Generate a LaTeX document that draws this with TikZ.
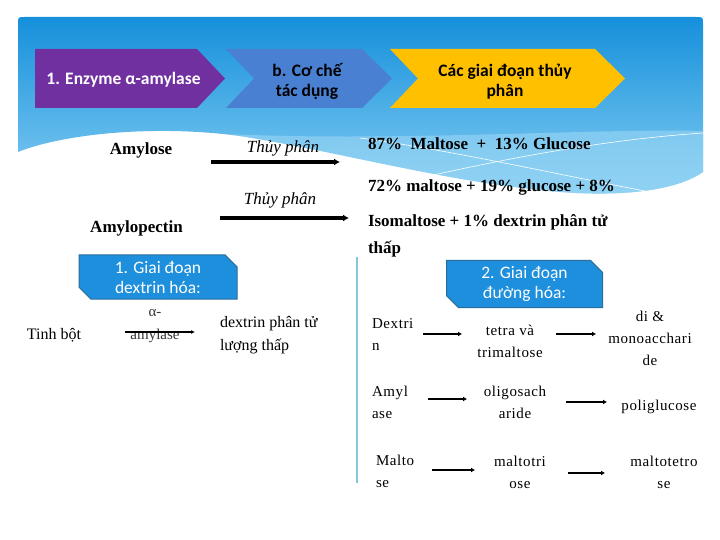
\documentclass[tikz,border=0pt]{standalone}
\usepackage{fontspec}
\setmainfont{Liberation Serif}
\newfontfamily\calibri{Carlito}
\usetikzlibrary{arrows.meta,shapes.misc}
\definecolor{bannertop}{HTML}{1590DB}
\definecolor{bannerbot}{HTML}{86CEF3}
\definecolor{bannerlight}{HTML}{9AD6F5}
\definecolor{purp}{HTML}{7030A0}
\definecolor{chevblue}{HTML}{4A80D2}
\definecolor{chevyel}{HTML}{FFC000}
\definecolor{snipfill}{HTML}{1E8FDC}
\definecolor{snipdraw}{HTML}{2A6E9E}
\definecolor{vline}{HTML}{86C6D8}

\begin{document}
\begin{tikzpicture}[x=1pt, y=-1pt, every node/.style={inner sep=0pt, outer sep=0pt},
    head/.style={font=\calibri\bfseries\fontsize{17.5}{20}\selectfont, align=center, anchor=base},
    bold/.style={font=\bfseries\fontsize{17}{28}\selectfont, anchor=base west, align=left},
    body/.style={font=\fontsize{16}{23}\selectfont, anchor=base},
    cell/.style={font=\fontsize{15}{22}\selectfont\addfontfeature{LetterSpace=4}, align=center, anchor=base},
    snip/.style={chamfered rectangle, chamfered rectangle corners={north east, south west},
          chamfered rectangle sep=6pt, fill=snipfill, draw=snipdraw, line width=1pt,
          minimum width=158pt, minimum height=41pt, align=center, text=white,
          font=\calibri\fontsize{17.5}{20}\selectfont},
    arr/.style={line width=3.2pt, -{Latex[length=6pt, width=7pt]}},
    arrs/.style={line width=2.2pt, -{Latex[length=4pt, width=5pt]}}]
    \useasboundingbox (0,0) rectangle (720,540);
    \fill[white] (0,0) rectangle (720,540);

    % Banner with wave at the bottom
    \shade[top color=bannertop, bottom color=bannerbot]
        (18,152) -- (18,24) .. controls (18,17) .. (25,17) -- (696,17) .. controls (703,17) .. (703,24)
        -- (703,172) .. controls (670,195) and (600,197) .. (540,190)
        .. controls (440,180) and (330,150) .. (240,136)
        .. controls (150,124) and (60,135) .. (18,152) -- cycle;
    \fill[bannerlight, opacity=0.6] (225,134) .. controls (400,142) and (600,128) .. (703,131)
        -- (703,172) .. controls (670,195) and (600,197) .. (540,190)
        .. controls (440,180) and (330,150) .. (240,136) -- cycle;
    \draw[white, line width=0.6pt] (360,138) .. controls (450,150) and (560,175) .. (650,192);
    \draw[white, line width=0.6pt] (420,178) .. controls (500,160) and (600,140) .. (703,133);

    % Chevrons
    \fill[purp] (35,49) -- (197,49) -- (225,78.5) -- (197,108) -- (35,108) -- cycle;
    \fill[chevblue] (226,49) -- (362,49) -- (392,78.5) -- (362,108) -- (226,108) -- (254,78.5) -- cycle;
    \fill[chevyel] (390,49) -- (595,49) -- (625,78.5) -- (595,108) -- (390,108) -- (418,78.5) -- cycle;
    \node[head, text=white] (enzyme) at (123.5,85) {1. Enzyme α-amylase};
    \node[head] (coche) at (307,97) {b. Cơ chế\\tác dụng};
    \node[head] (giaidoan) at (505,97) {Các giai đoạn thủy\\phân};

    % Hydrolysis of amylose and amylopectin
    \node[font=\bfseries\fontsize{17}{20}\selectfont, anchor=base] (amylose) at (141,155) {Amylose};
    \node[font=\bfseries\fontsize{17}{20}\selectfont, anchor=base] (amylopectin) at (136.5,233) {Amylopectin};
    \node[font=\itshape\fontsize{17}{20}\selectfont, anchor=base] (thuy1) at (283,153) {Thủy phân};
    \node[font=\itshape\fontsize{17}{20}\selectfont, anchor=base] (thuy2) at (280,205) {Thủy phân};
    \coordinate (t1s) at (211,162);
    \coordinate (t1e) at (340,162);
    \coordinate (t2s) at (220,218);
    \coordinate (t2e) at (349,218);
    \draw[arr] (t1s) -- (t1e);
    \draw[arr] (t2s) -- (t2e);
    \node[bold] (pct87) at (368,150) {87\%\ \ Maltose\ \ +\ \ 13\% Glucose};
    \node[bold] (pct72) at (368,192) {72\% maltose + 19\% glucose + 8\%};
    \node[bold] (isomal) at (368,254) {Isomaltose + 1\% dextrin phân tử\\thấp};

    % Stage 1
    \node[snip] (giai1) at (158,277) {1. Giai đoạn\\dextrin hóa:};
    \node[body] (tinhbot) at (54,339) {Tinh bột};
    \node[body, font=\fontsize{15}{23}\selectfont, text=black!80, align=center] (alpha) at (155,339) {α-\\amylase};
    \node[body, anchor=base west, align=left] (dexlow) at (220,350) {dextrin phân tử\\lượng thấp};
    \coordinate (as) at (125,332);
    \coordinate (ae) at (195,332);
    \draw[line width=1.2pt, -{Latex[length=4pt, width=4pt]}] (as) -- (ae);

    % Stage 2
    \draw[vline, line width=1.5pt] (357,257) -- (357,483);
    \node[snip, minimum width=156pt, minimum height=42pt] (giai2) at (524.5,284) {2. Giai đoạn\\đường hóa:};

    \node[cell, anchor=base west, align=left] (dextrin) at (372,350) {Dextri\\n};
    \node[cell] (tetra) at (510,357) {tetra và\\trimaltose};
    \node[cell] (dimono) at (650,365) {di \&\\monoacchari\\de};
    \node[cell, anchor=base west, align=left] (amyl) at (372,418) {Amyl\\ase};
    \node[cell] (oligo) at (515,418) {oligosach\\aride};
    \node[cell] (poli) at (659,410) {poliglucose};
    \node[cell, anchor=base west, align=left] (malto) at (376,487) {Malto\\se};
    \node[cell] (maltotri) at (520,488) {maltotri\\ose};
    \node[cell] (maltotetro) at (664,488) {maltotetro\\se};

    \coordinate (r1a) at (423,334);
    \coordinate (r1b) at (462,334);
    \coordinate (r1c) at (556,334);
    \coordinate (r1d) at (596,334);
    \coordinate (r2a) at (428,399);
    \coordinate (r2b) at (467,399);
    \coordinate (r2c) at (566,402);
    \coordinate (r2d) at (607,402);
    \coordinate (r3a) at (432,470);
    \coordinate (r3b) at (475,470);
    \coordinate (r3c) at (568,473);
    \coordinate (r3d) at (605,473);
    \draw[arrs] (r1a) -- (r1b);
    \draw[arrs] (r1c) -- (r1d);
    \draw[arrs] (r2a) -- (r2b);
    \draw[arrs] (r2c) -- (r2d);
    \draw[arrs] (r3a) -- (r3b);
    \draw[arrs] (r3c) -- (r3d);
\end{tikzpicture}
\end{document}
